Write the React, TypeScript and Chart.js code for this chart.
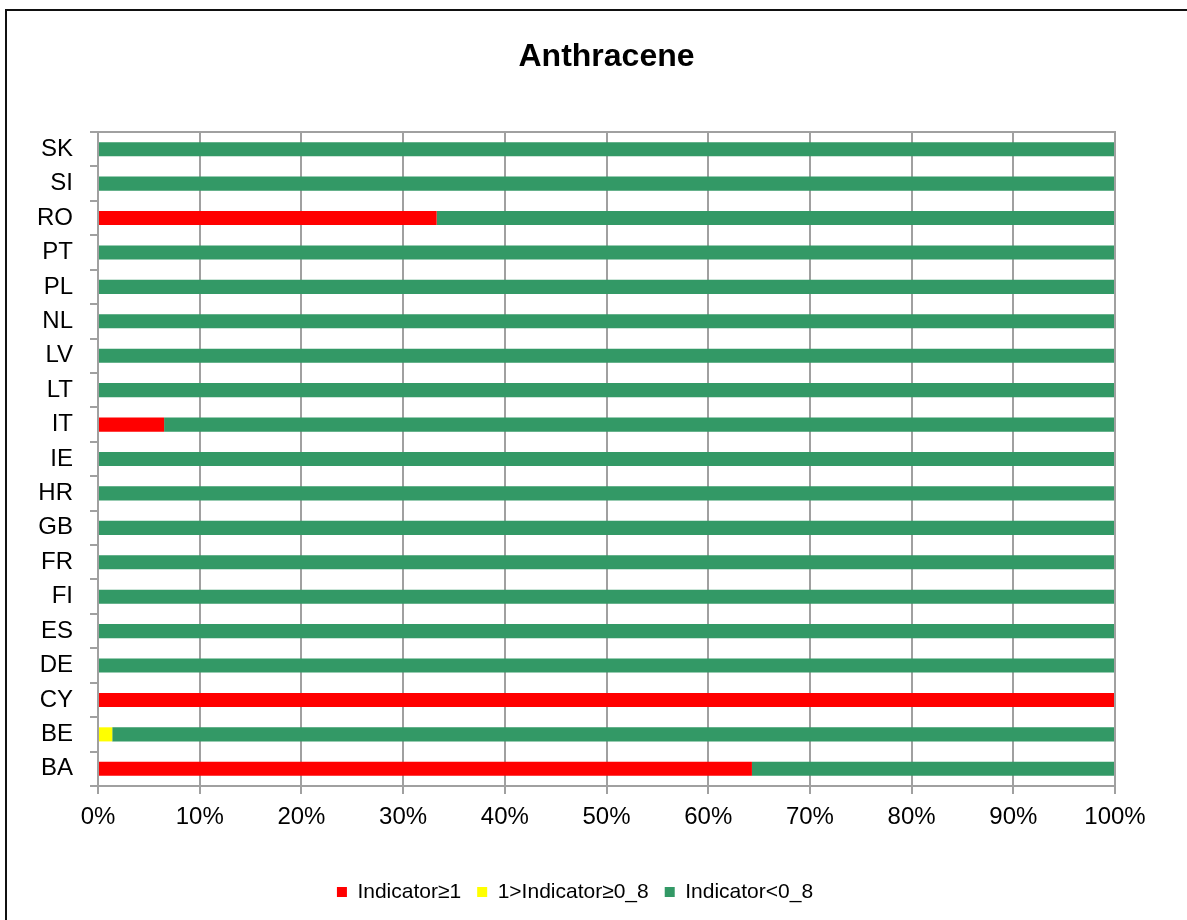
import React, { useEffect, useRef } from "react";
import { Chart, registerables } from "chart.js";

Chart.register(...registerables);

const categories = ["SK", "SI", "RO", "PT", "PL", "NL", "LV", "LT", "IT", "IE", "HR", "GB", "FR", "FI", "ES", "DE", "CY", "BE", "BA"];
const seriesNames = ["Indicator≥1", "1>Indicator≥0_8", "Indicator<0_8"];
const redValues = [0, 0, 33.3, 0, 0, 0, 0, 0, 6.5, 0, 0, 0, 0, 0, 0, 0, 100, 0, 64.3];
const yellowValues = [0, 0, 0, 0, 0, 0, 0, 0, 0, 0, 0, 0, 0, 0, 0, 0, 0, 1.4, 0];
const greenValues = [100, 100, 66.7, 100, 100, 100, 100, 100, 93.5, 100, 100, 100, 100, 100, 100, 100, 0, 98.6, 35.7];
const xTicks = [0, 10, 20, 30, 40, 50, 60, 70, 80, 90, 100];
const titleText = "Anthracene";

const FONT = "'Liberation Sans', Arial, sans-serif";
const GRID = "#a0a0a0";

const plotBorder = {
  id: "plotBorder",
  afterDatasetsDraw(chart: any) {
    const { ctx, chartArea } = chart;
    ctx.save();
    ctx.strokeStyle = GRID;
    ctx.lineWidth = 2;
    ctx.beginPath();
    ctx.moveTo(chartArea.left, chartArea.top);
    ctx.lineTo(chartArea.right, chartArea.top);
    ctx.lineTo(chartArea.right, chartArea.bottom);
    ctx.stroke();
    ctx.restore();
  },
};

export default function App() {
  const ref = useRef<HTMLCanvasElement | null>(null);

  useEffect(() => {
    if (!ref.current) return;
    const chart = new Chart(ref.current, {
      type: "bar",
      data: {
        labels: categories,
        datasets: [
          { label: seriesNames[0], data: redValues, backgroundColor: "#ff0000", borderWidth: 0 },
          { label: seriesNames[1], data: yellowValues, backgroundColor: "#ffff00", borderWidth: 0 },
          { label: seriesNames[2], data: greenValues, backgroundColor: "#339966", borderWidth: 0 },
        ],
      },
      options: {
        indexAxis: "y",
        responsive: false,
        animation: false,
        devicePixelRatio: 1,
        layout: { padding: { left: 35, right: 72, top: 0, bottom: 7.5 } },
        datasets: { bar: { barPercentage: 0.41, categoryPercentage: 1 } },
        scales: {
          x: {
            stacked: true,
            min: 0,
            max: 100,
            afterBuildTicks: (scale: any) => {
              scale.ticks = xTicks.map((v) => ({ value: v }));
            },
            afterFit: (scale: any) => {
              scale.height = 79.5;
            },
            ticks: {
              callback: (v: any) => v + "%",
              color: "#000",
              font: { family: FONT, size: 24 },
              padding: 8.6,
              maxRotation: 0,
              autoSkip: false,
            },
            grid: { color: GRID, lineWidth: 2, drawTicks: true, tickLength: 8 },
            border: { display: true, color: GRID, width: 2 },
          },
          y: {
            stacked: true,
            afterFit: (scale: any) => {
              scale.width = 63;
            },
            ticks: {
              color: "#000",
              font: { family: FONT, size: 24 },
              padding: 17,
              autoSkip: false,
            },
            grid: { offset: true, drawOnChartArea: false, drawTicks: true, tickLength: 8, color: GRID, lineWidth: 2 },
            border: { display: true, color: GRID, width: 2 },
          },
        },
        plugins: {
          title: {
            display: true,
            text: titleText,
            fullSize: false,
            color: "#000",
            font: { family: FONT, size: 32, weight: "bold", lineHeight: 1.2 },
            padding: { top: 38.3, bottom: 55.3 },
          },
          legend: {
            display: true,
            position: "bottom",
            labels: {
              color: "#000",
              font: { family: FONT, size: 21 },
              boxWidth: 10,
              boxHeight: 10,
              padding: 16,
            },
          },
          tooltip: { enabled: false },
        },
      },
      plugins: [plotBorder],
    } as any);
    return () => chart.destroy();
  }, []);

  return (
    <div style={{ position: "absolute", left: 0, top: 0, width: 1187, height: 920, overflow: "hidden", background: "#fff" }}>
      <div
        style={{
          position: "absolute",
          left: 5,
          top: 9,
          width: 1182,
          height: 911,
          borderLeft: "2px solid #111",
          borderTop: "2px solid #111",
          boxSizing: "border-box",
        }}
      />
      <canvas ref={ref} width={1187} height={920} style={{ position: "absolute", left: 0, top: 0 }} />
    </div>
  );
}
